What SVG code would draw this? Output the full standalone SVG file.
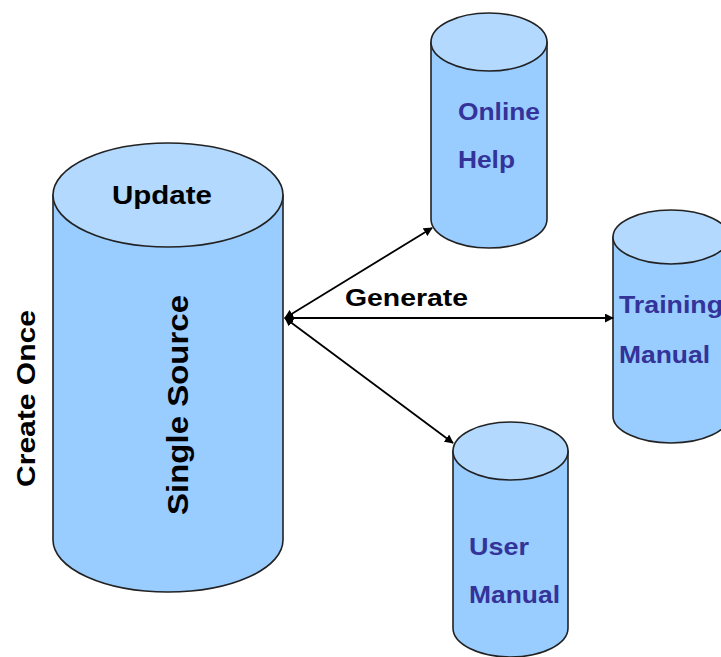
<svg xmlns="http://www.w3.org/2000/svg" width="721" height="657" viewBox="0 0 721 657">
<defs>
<style>
.body{fill:#99CCFF;stroke:#222;stroke-width:1.6}
.top{fill:#B3D9FF;stroke:#222;stroke-width:1.6}
.blk{font-family:"Liberation Sans",Arial,sans-serif;font-weight:bold;fill:#000}
.nav{font-family:"Liberation Sans",Arial,sans-serif;font-weight:bold;fill:#333399;font-size:24px}
.conn{stroke:#000;stroke-width:1.8;fill:none}
</style>
<marker id="ah" viewBox="0 0 10 10" refX="9" refY="5" markerWidth="9" markerHeight="9" markerUnits="userSpaceOnUse" orient="auto-start-reverse">
<path d="M0,0 L10,5 L0,10 z" fill="#000"/>
</marker>
</defs>
<rect width="721" height="657" fill="#fff"/>
<g id="single-source">
<path class="body" d="M53,195 L53,540 A115,52 0 0 0 283,540 L283,195 Z"/>
<ellipse class="top" cx="168" cy="195" rx="115" ry="52"/>
<text class="blk" x="112" y="204" font-size="25" textLength="100" lengthAdjust="spacingAndGlyphs">Update</text>
<text class="blk" font-size="29" textLength="220" lengthAdjust="spacingAndGlyphs" transform="translate(188,515) rotate(-90)">Single Source</text>
</g>
<g id="create-once">
<text class="blk" font-size="26" textLength="177" lengthAdjust="spacingAndGlyphs" transform="translate(35,487) rotate(-90)">Create Once</text>
</g>
<g id="online-help">
<path class="body" d="M431,42 L431,219 A58,29 0 0 0 547,219 L547,42 Z"/>
<ellipse class="top" cx="489" cy="42" rx="58" ry="29"/>
<text class="nav" x="458" y="120" textLength="82" lengthAdjust="spacingAndGlyphs">Online</text>
<text class="nav" x="458" y="168" textLength="57" lengthAdjust="spacingAndGlyphs">Help</text>
</g>
<g id="training-manual">
<path class="body" d="M613,237 L613,416 A58,27 0 0 0 729,416 L729,237 Z"/>
<ellipse class="top" cx="671" cy="237" rx="58" ry="27"/>
<text class="nav" x="619" y="313" textLength="104" lengthAdjust="spacingAndGlyphs">Training</text>
<text class="nav" x="619" y="363" textLength="91" lengthAdjust="spacingAndGlyphs">Manual</text>
</g>
<g id="user-manual">
<path class="body" d="M453,451 L453,628 A57.5,29 0 0 0 568,628 L568,451 Z"/>
<ellipse class="top" cx="510.5" cy="451" rx="57.5" ry="29"/>
<text class="nav" x="469" y="555" textLength="60" lengthAdjust="spacingAndGlyphs">User</text>
<text class="nav" x="469" y="603" textLength="91" lengthAdjust="spacingAndGlyphs">Manual</text>
</g>
<g id="connectors">
<line class="conn" x1="285" y1="318" x2="432" y2="228" marker-start="url(#ah)" marker-end="url(#ah)"/>
<line class="conn" x1="285" y1="318" x2="613" y2="318" marker-start="url(#ah)" marker-end="url(#ah)"/>
<line class="conn" x1="285" y1="318" x2="453" y2="443" marker-start="url(#ah)" marker-end="url(#ah)"/>
<text class="blk" x="345" y="306" font-size="23" textLength="123" lengthAdjust="spacingAndGlyphs">Generate</text>
</g>
</svg>
